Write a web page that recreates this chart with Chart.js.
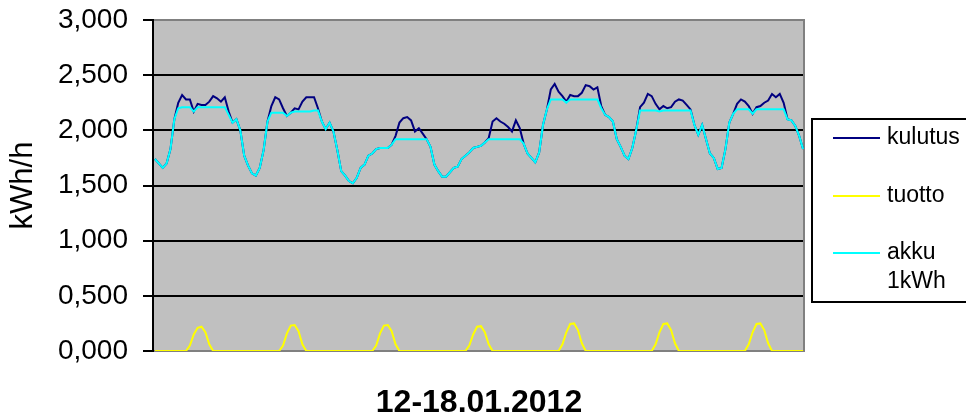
<!DOCTYPE html>
<html>
<head>
<meta charset="utf-8">
<script src="https://cdn.jsdelivr.net/npm/chart.js@4/dist/chart.umd.min.js"></script>
<style>
  html, body { margin: 0; padding: 0; background: #ffffff; }
  #wrap { width: 966px; height: 418px; }
</style>
</head>
<body>
<div id="wrap"><canvas id="chart" width="966" height="418"></canvas></div>
<script>
// Week 12.-18.01.2012, one value per hour (kWh/h)
const days = ['12.01', '13.01', '14.01', '15.01', '16.01', '17.01', '18.01'];
const seriesNames = ['kulutus', 'tuotto', 'akku 1kWh'];
const seriesColors = ['#000080', '#ffff00', '#00ffff'];
const yTicks = [0, 0.5, 1, 1.5, 2, 2.5, 3];

const kulutus = [
  1.74, 1.70, 1.66, 1.70, 1.83, 2.10, 2.25, 2.32, 2.28, 2.28, 2.17, 2.24, 2.23, 2.23, 2.26, 2.31, 2.29, 2.26, 2.30, 2.17, 2.07, 2.10, 2.00, 1.77,
  1.68, 1.61, 1.59, 1.66, 1.82, 2.08, 2.22, 2.30, 2.28, 2.20, 2.13, 2.16, 2.20, 2.19, 2.26, 2.30, 2.30, 2.30, 2.20, 2.08, 2.01, 2.07, 1.99, 1.82,
  1.63, 1.59, 1.54, 1.52, 1.57, 1.66, 1.69, 1.77, 1.79, 1.83, 1.84, 1.84, 1.84, 1.87, 1.95, 2.07, 2.11, 2.12, 2.09, 1.99, 2.02, 1.97, 1.92, 1.85,
  1.69, 1.63, 1.58, 1.58, 1.62, 1.66, 1.67, 1.74, 1.77, 1.80, 1.84, 1.85, 1.86, 1.89, 1.93, 2.08, 2.11, 2.08, 2.06, 2.03, 1.99, 2.09, 2.02, 1.88,
  1.79, 1.75, 1.71, 1.80, 2.05, 2.19, 2.37, 2.42, 2.35, 2.31, 2.26, 2.32, 2.31, 2.31, 2.34, 2.41, 2.40, 2.37, 2.39, 2.22, 2.14, 2.12, 2.08, 1.92,
  1.85, 1.77, 1.74, 1.84, 2.00, 2.21, 2.25, 2.33, 2.31, 2.24, 2.19, 2.22, 2.20, 2.21, 2.26, 2.28, 2.27, 2.23, 2.19, 2.05, 1.96, 2.05, 1.92, 1.79,
  1.75, 1.65, 1.66, 1.83, 2.07, 2.15, 2.24, 2.28, 2.26, 2.22, 2.15, 2.21, 2.22, 2.25, 2.27, 2.33, 2.30, 2.33, 2.25, 2.10, 2.09, 2.04, 1.95, 1.83
];

const tuotto = [
  0, 0, 0, 0, 0, 0, 0, 0, 0, 0.05, 0.15, 0.21, 0.22, 0.17, 0.06, 0, 0, 0, 0, 0, 0, 0, 0, 0,
  0, 0, 0, 0, 0, 0, 0, 0, 0, 0.05, 0.16, 0.23, 0.235, 0.18, 0.06, 0, 0, 0, 0, 0, 0, 0, 0, 0,
  0, 0, 0, 0, 0, 0, 0, 0, 0, 0.05, 0.16, 0.23, 0.235, 0.18, 0.06, 0, 0, 0, 0, 0, 0, 0, 0, 0,
  0, 0, 0, 0, 0, 0, 0, 0, 0, 0.05, 0.15, 0.22, 0.225, 0.17, 0.06, 0, 0, 0, 0, 0, 0, 0, 0, 0,
  0, 0, 0, 0, 0, 0, 0, 0, 0, 0.06, 0.17, 0.245, 0.25, 0.19, 0.07, 0, 0, 0, 0, 0, 0, 0, 0, 0,
  0, 0, 0, 0, 0, 0, 0, 0, 0, 0.06, 0.17, 0.245, 0.25, 0.19, 0.07, 0, 0, 0, 0, 0, 0, 0, 0, 0,
  0, 0, 0, 0, 0, 0, 0, 0, 0, 0.06, 0.17, 0.245, 0.25, 0.19, 0.07, 0, 0, 0, 0, 0, 0, 0, 0, 0
];

const akku = [
  1.74, 1.70, 1.66, 1.70, 1.83, 2.10, 2.20, 2.21, 2.21, 2.21, 2.17, 2.21, 2.21, 2.21, 2.21, 2.21, 2.21, 2.21, 2.21, 2.14, 2.07, 2.10, 2.00, 1.77,
  1.68, 1.61, 1.59, 1.66, 1.82, 2.08, 2.16, 2.16, 2.16, 2.16, 2.13, 2.16, 2.17, 2.17, 2.17, 2.17, 2.17, 2.18, 2.18, 2.08, 2.01, 2.07, 1.99, 1.82,
  1.63, 1.59, 1.54, 1.52, 1.57, 1.66, 1.69, 1.77, 1.79, 1.83, 1.84, 1.84, 1.84, 1.87, 1.92, 1.92, 1.92, 1.92, 1.92, 1.92, 1.92, 1.92, 1.92, 1.85,
  1.69, 1.63, 1.58, 1.58, 1.62, 1.66, 1.67, 1.74, 1.77, 1.80, 1.84, 1.85, 1.86, 1.89, 1.92, 1.92, 1.92, 1.92, 1.92, 1.92, 1.92, 1.92, 1.92, 1.88,
  1.79, 1.75, 1.71, 1.80, 2.05, 2.19, 2.28, 2.28, 2.28, 2.28, 2.25, 2.28, 2.28, 2.28, 2.28, 2.28, 2.28, 2.28, 2.28, 2.20, 2.14, 2.12, 2.08, 1.92,
  1.85, 1.77, 1.74, 1.84, 2.00, 2.18, 2.18, 2.18, 2.18, 2.18, 2.17, 2.18, 2.18, 2.18, 2.18, 2.18, 2.18, 2.18, 2.18, 2.05, 1.96, 2.05, 1.92, 1.79,
  1.75, 1.65, 1.66, 1.83, 2.07, 2.15, 2.19, 2.19, 2.19, 2.19, 2.15, 2.19, 2.19, 2.19, 2.19, 2.19, 2.19, 2.19, 2.19, 2.10, 2.09, 2.04, 1.95, 1.83
];

// hour labels for the category axis
let labels = [];
days.forEach(d => {
  for (let h = 0; h < 24; h++) labels.push(d + ' ' + (h < 10 ? '0' : '') + h + ':00');
});

const FONT = "'Liberation Sans', Arial, sans-serif";

//Grey plot area with grey frame, like the Excel original
const plotArea = {
  id: 'plotArea',
  beforeDraw(chart) {
    const {ctx, chartArea: a} = chart;
    ctx.save();
    ctx.fillStyle = '#c0c0c0';
    ctx.fillRect(a.left, a.top, a.right - a.left, a.bottom - a.top);
    ctx.restore();
  },
  beforeDatasetsDraw(chart) {
    const {ctx, chartArea: a} = chart;
    ctx.save();
    ctx.strokeStyle = '#808080';
    ctx.lineWidth = 2;
    ctx.beginPath();
    ctx.moveTo(a.left, a.top);
    ctx.lineTo(a.right - 1, a.top);
    ctx.lineTo(a.right - 1, a.bottom);
    ctx.lineTo(a.left, a.bottom);
    ctx.stroke();
    // left axis stays black
    ctx.strokeStyle = '#000000';
    ctx.beginPath();
    ctx.moveTo(a.left, a.top - 1);
    ctx.lineTo(a.left, a.bottom + 1);
    ctx.stroke();
    ctx.restore();
  }
};

//Legend box on the right, label text wraps if it is too long
const boxLegend = {
  id: 'boxLegend',
  afterDraw(chart) {
    const ctx = chart.ctx;
    const x = 812, y = 119, w = 170, h = 183;
    ctx.save();
    ctx.strokeStyle = '#000000';
    ctx.lineWidth = 2;
    ctx.strokeRect(x, y, w, h);
    ctx.font = '23px ' + FONT;
    ctx.textBaseline = 'middle';
    ctx.fillStyle = '#000000';
    const rowY = [138, 196, 253];
    const maxW = 966 - 887;
    chart.data.datasets.forEach((ds, i) => {
      ctx.strokeStyle = ds.borderColor;
      ctx.lineWidth = 2;
      ctx.beginPath();
      ctx.moveTo(833, rowY[i]);
      ctx.lineTo(880, rowY[i]);
      ctx.stroke();
      let lines = [], cur = '';
      ds.label.split(' ').forEach(word => {
        let test = cur ? cur + ' ' + word : word;
        if (cur && ctx.measureText(test).width > maxW) { lines.push(cur); cur = word; }
        else cur = test;
      });
      lines.push(cur);
      lines.forEach((t, j) => ctx.fillText(t, 887, rowY[i] + j * 29));
    });
    ctx.restore();
  }
};

let ctx = document.getElementById('chart').getContext('2d');

window.chart = new Chart(ctx, {
  type: 'line',
  data: {
    labels: labels,
    datasets: [
      { label: seriesNames[0], data: kulutus, borderColor: seriesColors[0], order: 3 },
      { label: seriesNames[1], data: tuotto, borderColor: seriesColors[1], order: 2 },
      { label: seriesNames[2], data: akku, borderColor: seriesColors[2], order: 1 }
    ]
  },
  options: {
    responsive: false,
    animation: false,
    devicePixelRatio: 1,
    layout: { padding: { top: 20, right: 161, left: 0, bottom: 0 } },
    elements: {
      point: { radius: 0 },
      line: { borderWidth: 2, tension: 0 }
    },
    plugins: {
      legend: { display: false },
      tooltip: { enabled: false }
    },
    scales: {
      x: {
        offset: true,
        grid: { display: false },
        border: { display: false },
        ticks: { display: false },
        title: {
          display: true,
          text: '12-18.01.2012',
          color: '#000000',
          font: { family: FONT, size: 32, weight: 'bold', lineHeight: 0.9 },
          padding: { top: 0, bottom: 0 }
        },
        afterFit(scale) {
          scale.height = 67;
          scale.paddingLeft = 0;
          scale.paddingRight = 0;
        }
      },
      y: {
        min: 0,
        max: 3,
        afterBuildTicks(scale) {
          scale.ticks = yTicks.map(v => ({ value: v }));
        },
        grid: {
          color: c => (c.tick && (c.tick.value === 0 || c.tick.value === 3)) ? 'rgba(0,0,0,0)' : '#000000',
          lineWidth: 2,
          tickColor: '#000000',
          tickLength: 10
        },
        border: { display: false },
        ticks: {
          color: '#000000',
          padding: 15,
          font: { family: FONT, size: 28 },
          callback: v => v.toFixed(3).replace('.', ',')
        },
        title: {
          display: true,
          text: 'kWh/h',
          color: '#000000',
          font: { family: FONT, size: 31 },
          padding: { top: 5, bottom: 0 }
        },
        afterFit(scale) {
          scale.width = 153;
          scale.paddingTop = 0;
          scale.paddingBottom = 0;
        }
      }
    }
  },
  plugins: [plotArea, boxLegend]
});
</script>
</body>
</html>
